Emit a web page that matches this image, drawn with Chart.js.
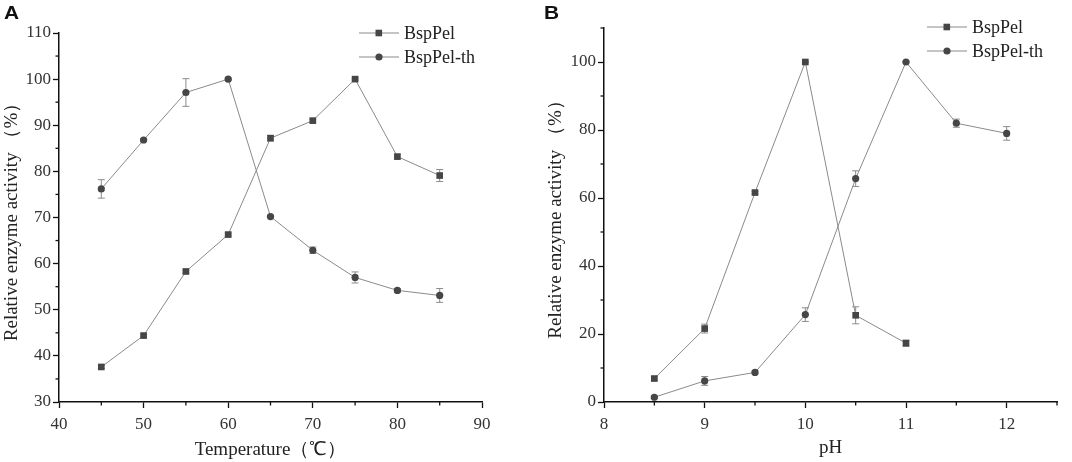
<!DOCTYPE html>
<html>
<head>
<meta charset="utf-8">
<script src="https://cdn.jsdelivr.net/npm/chart.js@4/dist/chart.umd.min.js"></script>
<style>
  body { margin: 0; background: #fff; width: 1072px; height: 462px; overflow: hidden; position: relative; }
  .panel { position: absolute; top: 0; width: 536px; height: 462px; }
  .tag { position: absolute; font: bold 19px "Liberation Sans", Arial, sans-serif; color: #111; transform: scaleX(1.1); transform-origin: left top; }
</style>
</head>
<body>
<div class="panel" style="left:0"><canvas id="chartA"></canvas></div>
<div class="panel" style="left:536px"><canvas id="chartB"></canvas></div>
<div class="tag" style="left:4px;top:2px">A</div>
<div class="tag" style="left:544px;top:2px">B</div>
<script>
// panel A: temperature
const tempX = [45, 50, 55, 60, 65, 70, 75, 80, 85];
const tempPel = [37.6, 44.4, 58.3, 66.3, 87.2, 91.0, 100, 83.2, 79.1];
const tempPelErr = [0.3, 0.3, 0.3, 0.3, 0.6, 0.3, 0.2, 0.5, 1.3];
const tempTh = [76.2, 86.8, 97.1, 100, 70.2, 62.9, 57.0, 54.2, 53.1];
const tempThErr = [2.0, 0.3, 3.0, 0.2, 0.3, 0.7, 1.2, 0.4, 1.5];

// panel B: pH
const phPelX = [8.5, 9.0, 9.5, 10.0, 10.5, 11.0];
const phPel = [6.9, 21.6, 61.6, 100, 25.5, 17.3];
const phPelErr = [0.5, 1.3, 0.4, 0.2, 2.5, 0.9];
const phThX = [8.5, 9.0, 9.5, 10.0, 10.5, 11.0, 11.5, 12.0];
const phTh = [1.4, 6.2, 8.7, 25.7, 65.7, 100, 82.0, 79.0];
const phThErr = [0.4, 1.3, 0.4, 2.0, 2.3, 0.2, 1.2, 2.0];

const serif = '"Liberation Serif", "Times New Roman", serif';
const markFill = '#464646';
const lineCol = '#8a8a8a';

function pts(xs, ys) {
  return xs.map((x, i) => ({ x: x, y: ys[i] }));
}

function isMajor(v, step) {
  return Math.abs(v / step - Math.round(v / step)) < 1e-6;
}

// error bars drawn through the scales
const errorBars = {
  id: 'errorBars',
  beforeDatasetsDraw(chart) {
    const ctx = chart.ctx;
    const xs = chart.scales.x, ys = chart.scales.y;
    ctx.save();
    ctx.strokeStyle = '#8c8c8c';
    ctx.lineWidth = 1;
    chart.data.datasets.forEach(ds => {
      ds.data.forEach((p, i) => {
        const e = ds.errors[i];
        const px = xs.getPixelForValue(p.x);
        const top = ys.getPixelForValue(p.y + e);
        const bot = ys.getPixelForValue(p.y - e);
        ctx.beginPath();
        ctx.moveTo(px, top); ctx.lineTo(px, bot);
        ctx.moveTo(px - 3.5, top); ctx.lineTo(px + 3.5, top);
        ctx.moveTo(px - 3.5, bot); ctx.lineTo(px + 3.5, bot);
        ctx.stroke();
      });
    });
    ctx.restore();
  }
};

// shorter minor ticks
const minorTicks = {
  id: 'minorTicks',
  afterDraw(chart) {
    const ctx = chart.ctx;
    const a = chart.chartArea;
    ctx.save();
    ctx.strokeStyle = '#111';
    ctx.lineWidth = 1.3;
    ['x', 'y'].forEach(id => {
      const s = chart.scales[id];
      const step = s.options.majorStep;
      s.ticks.forEach(t => {
        if (isMajor(t.value, step)) return;
        const p = s.getPixelForValue(t.value);
        ctx.beginPath();
        if (id === 'x') { ctx.moveTo(p, a.bottom); ctx.lineTo(p, a.bottom + 3.5); }
        else { ctx.moveTo(a.left, p); ctx.lineTo(a.left - 3.5, p); }
        ctx.stroke();
      });
    });
    ctx.restore();
  }
};

// line + marker legend in the top right
const lineLegend = {
  id: 'lineLegend',
  afterDraw(chart, args, opts) {
    const ctx = chart.ctx;
    ctx.save();
    ctx.font = '18px ' + serif;
    ctx.textBaseline = 'middle';
    chart.data.datasets.forEach((ds, i) => {
      const y = opts.y + i * 24;
      ctx.strokeStyle = lineCol;
      ctx.lineWidth = 1;
      ctx.beginPath();
      ctx.moveTo(opts.x, y); ctx.lineTo(opts.x + 40, y);
      ctx.stroke();
      ctx.fillStyle = markFill;
      if (ds.pointStyle === 'rect') {
        ctx.fillRect(opts.x + 16.5, y - 3.3, 6.6, 6.6);
      } else {
        ctx.beginPath();
        ctx.arc(opts.x + 20, y, 3.6, 0, Math.PI * 2);
        ctx.fill();
      }
      ctx.fillStyle = '#222';
      ctx.fillText(ds.label, opts.x + 45, y + 1);
    });
    ctx.restore();
  }
};

function series(label, data, errors, style) {
  return {
    label: label,
    data: data,
    errors: errors,
    showLine: true,
    borderColor: lineCol,
    borderWidth: 1,
    pointStyle: style,
    pointRadius: style === 'rect' ? 4.7 : 3.6,
    pointBackgroundColor: markFill,
    pointBorderColor: markFill,
    pointBorderWidth: 0
  };
}

function axis(o) {
  return {
    type: 'linear',
    min: o.min,
    max: o.max,
    majorStep: o.label,
    afterFit(scale) {
      if (o.width) scale.width = o.width;
      if (o.height) scale.height = o.height;
    },
    border: { color: '#111', width: 1.5 },
    grid: {
      display: true,
      drawOnChartArea: false,
      tickLength: 6,
      tickWidth: 1.3,
      tickColor: c => (c.tick && isMajor(c.tick.value, o.label)) ? '#111' : 'rgba(0,0,0,0)'
    },
    ticks: {
      stepSize: o.step,
      autoSkip: false,
      maxRotation: 0,
      padding: o.tickPad,
      color: '#333',
      font: { family: serif, size: 17 },
      callback: v => (isMajor(v, o.label) && v <= o.lastLabel) ? String(v) : ''
    },
    title: {
      display: true,
      text: o.title,
      color: '#222',
      font: { family: serif, size: 19 },
      padding: o.titlePad
    }
  };
}

function makeChart(id, datasets, xo, yo, padding, legendPos) {
  new Chart(document.getElementById(id), {
    type: 'scatter',
    data: { datasets: datasets },
    options: {
      responsive: true,
      maintainAspectRatio: false,
      animation: false,
      layout: { padding: padding },
      plugins: {
        legend: { display: false },
        tooltip: { enabled: false },
        lineLegend: legendPos
      },
      scales: { x: axis(xo), y: axis(yo) }
    },
    plugins: [errorBars, minorTicks, lineLegend]
  });
}

makeChart('chartA',
  [series('BspPel', pts(tempX, tempPel), tempPelErr, 'rect'),
   series('BspPel-th', pts(tempX, tempTh), tempThErr, 'circle')],
  { min: 40, max: 90, step: 5, label: 10, lastLabel: 90, height: 60, tickPad: 6, title: 'Temperature（℃）', titlePad: { top: 4, bottom: 1 } },
  { min: 30, max: 110, step: 5, label: 10, lastLabel: 110, width: 59, tickPad: 2, title: 'Relative enzyme activity （%）', titlePad: { top: 1, bottom: 4 } },
  { top: 33, right: 54, left: 0, bottom: 0 },
  { x: 359, y: 33 });

makeChart('chartB',
  [series('BspPel', pts(phPelX, phPel), phPelErr, 'rect'),
   series('BspPel-th', pts(phThX, phTh), phThErr, 'circle')],
  { min: 8, max: 12.5, step: 0.5, label: 1, lastLabel: 12, height: 60, tickPad: 6, title: 'pH', titlePad: { top: 4, bottom: 3 } },
  { min: 0, max: 110, step: 10, label: 20, lastLabel: 100, width: 68, tickPad: 2, title: 'Relative enzyme activity （%）', titlePad: { top: 9, bottom: 4 } },
  { top: 28, right: 15, left: 0, bottom: 0 },
  { x: 391, y: 27 });
</script>
</body>
</html>
